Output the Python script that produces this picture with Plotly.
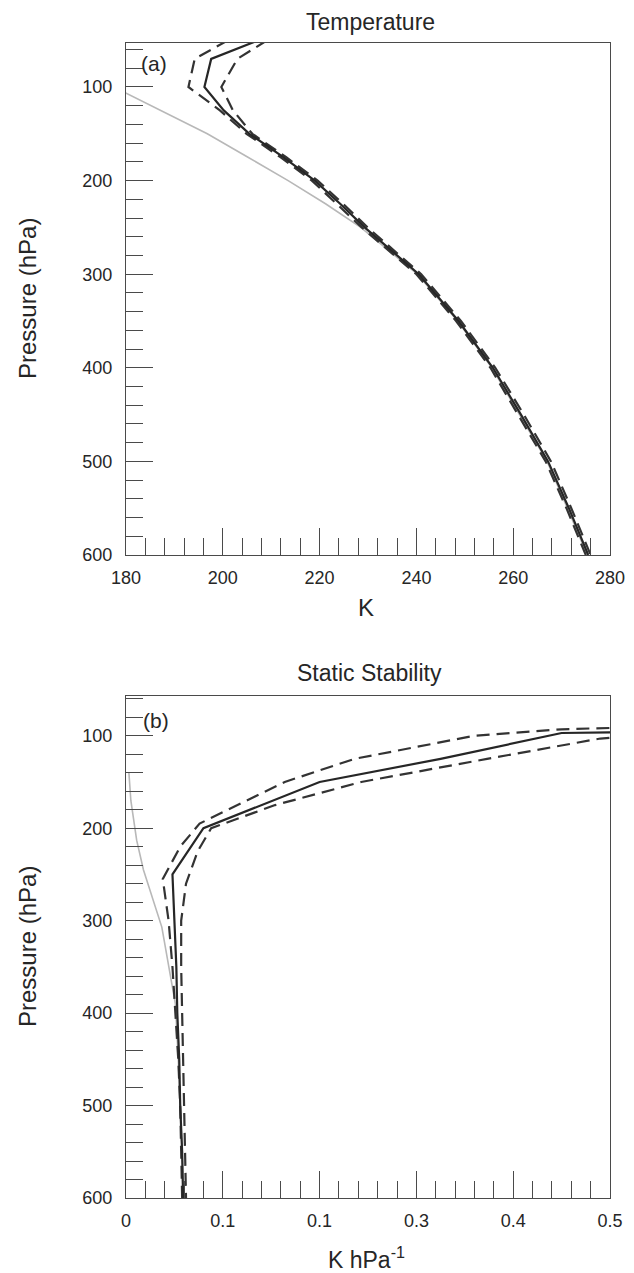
import plotly.graph_objects as go

# ---- Temperature profiles (K) on pressure levels (hPa) ----
p_temp = [50, 70, 100, 125, 150, 175, 200, 225, 250, 300, 350, 400, 450, 500, 550, 600]
t_mean = [207.4, 197.6, 196.2, 200.2, 205.5, 212.5, 219.0, 224.3, 229.3, 240.5, 248.7, 255.8, 261.6, 267.2, 271.5, 275.5]
t_low = [201.1, 194.2, 192.9, 199.4, 204.9, 211.9, 218.4, 223.6, 228.7, 240.0, 248.2, 255.3, 261.0, 266.7, 271.0, 275.0]
t_high = [209.2, 203.0, 199.7, 202.1, 206.1, 213.1, 219.6, 224.9, 229.9, 241.0, 249.2, 256.3, 262.2, 267.8, 272.0, 276.0]

p_temp_ref = [100, 125, 150, 175, 200, 225, 250, 300, 350, 400, 450, 500, 550, 600]
t_ref = [177.5, 187.2, 196.8, 205.2, 213.5, 221.3, 228.5, 240.2, 248.5, 255.6, 261.3, 267.0, 271.2, 275.3]

# ---- Static stability profiles (K hPa^-1) ----
p_ss_mean = [96, 97, 125, 150, 200, 250, 300, 350, 400, 450, 500, 550, 600]
ss_mean = [0.52, 0.45, 0.325, 0.20, 0.080, 0.048, 0.050, 0.052, 0.053, 0.055, 0.056, 0.058, 0.059]

p_ss_upper = [91, 93, 100, 125, 150, 195, 220, 255, 300, 350, 400, 450, 500, 550, 600]
ss_upper = [0.52, 0.45, 0.36, 0.236, 0.164, 0.076, 0.056, 0.038, 0.044, 0.048, 0.051, 0.054, 0.056, 0.057, 0.058]

p_ss_lower = [101, 103, 125, 150, 175, 200, 225, 260, 300, 350, 400, 450, 500, 550, 600]
ss_lower = [0.52, 0.49, 0.373, 0.243, 0.154, 0.088, 0.074, 0.062, 0.057, 0.057, 0.058, 0.059, 0.060, 0.061, 0.062]

p_ss_ref = [140, 170, 213, 245, 307, 350, 390, 450, 500, 550, 600]
ss_ref = [0.003, 0.005, 0.011, 0.018, 0.037, 0.044, 0.051, 0.054, 0.056, 0.058, 0.059]

# ---- Axis ticks ----
p_ticks = [100, 200, 300, 400, 500, 600]
p_tick_text = ["100", "200", "300", "400", "500", "600"]
t_ticks = [180, 200, 220, 240, 260, 280]
t_tick_text = ["180", "200", "220", "240", "260", "280"]
ss_ticks = [0, 0.1, 0.2, 0.3, 0.4, 0.5]
ss_tick_text = ["0", "0.1", "0.1", "0.3", "0.4", "0.5"]

W, H = 634, 1273
FONT = "Liberation Sans, Arial, Helvetica, sans-serif"
INK = "#262626"
FRAME = "#4a4a4a"

LINE_MAIN = dict(color="#262626", width=2.2)
LINE_DASH = dict(color="#333333", width=2.2, dash="13px,7px")
LINE_REF = dict(color="#b8b8b8", width=1.6)


def px_x(x):
    return x / W


def px_y(y):
    return 1 - y / H


fig = go.Figure()

# Panel (a): temperature
fig.add_trace(go.Scatter(x=t_ref, y=p_temp_ref, mode="lines", line=LINE_REF, xaxis="x", yaxis="y"))
fig.add_trace(go.Scatter(x=t_low, y=p_temp, mode="lines", line=LINE_DASH, xaxis="x", yaxis="y"))
fig.add_trace(go.Scatter(x=t_high, y=p_temp, mode="lines", line=LINE_DASH, xaxis="x", yaxis="y"))
fig.add_trace(go.Scatter(x=t_mean, y=p_temp, mode="lines", line=LINE_MAIN, xaxis="x", yaxis="y"))

# Panel (b): static stability
fig.add_trace(go.Scatter(x=ss_ref, y=p_ss_ref, mode="lines", line=LINE_REF, xaxis="x2", yaxis="y2"))
fig.add_trace(go.Scatter(x=ss_upper, y=p_ss_upper, mode="lines", line=LINE_DASH, xaxis="x2", yaxis="y2"))
fig.add_trace(go.Scatter(x=ss_lower, y=p_ss_lower, mode="lines", line=LINE_DASH, xaxis="x2", yaxis="y2"))
fig.add_trace(go.Scatter(x=ss_mean, y=p_ss_mean, mode="lines", line=LINE_MAIN, xaxis="x2", yaxis="y2"))

x_dom = [px_x(126), px_x(610)]

common_axis = dict(
    showline=True, linecolor=FRAME, linewidth=1.4, mirror=True,
    showgrid=False, zeroline=False,
    ticks="inside", ticklen=27, tickwidth=1.4, tickcolor=FRAME,
    tickfont=dict(family=FONT, size=18, color=INK),
    automargin=False,
)

fig.update_layout(
    width=W, height=H,
    margin=dict(l=0, r=0, t=0, b=0, autoexpand=False),
    paper_bgcolor="white", plot_bgcolor="white",
    showlegend=False,
    xaxis=dict(
        domain=x_dom, anchor="y", range=[180, 280],
        tickvals=t_ticks, ticktext=t_tick_text,
        minor=dict(dtick=4, tick0=180, ticks="inside", ticklen=17, tickwidth=1.4, tickcolor=FRAME),
        ticklabelstandoff=6,
        **common_axis,
    ),
    yaxis=dict(
        domain=[px_y(555), px_y(43)], anchor="x", range=[600, 53],
        tickvals=p_ticks, ticktext=p_tick_text,
        minor=dict(dtick=20, tick0=0, ticks="inside", ticklen=17, tickwidth=1.4, tickcolor=FRAME),
        ticklabelstandoff=9,
        **common_axis,
    ),
    xaxis2=dict(
        domain=x_dom, anchor="y2", range=[0, 0.5],
        tickvals=ss_ticks, ticktext=ss_tick_text,
        minor=dict(dtick=0.02, tick0=0, ticks="inside", ticklen=17, tickwidth=1.4, tickcolor=FRAME),
        ticklabelstandoff=6,
        **common_axis,
    ),
    yaxis2=dict(
        domain=[px_y(1198), px_y(696)], anchor="x2", range=[600, 57],
        tickvals=p_ticks, ticktext=p_tick_text,
        minor=dict(dtick=20, tick0=0, ticks="inside", ticklen=17, tickwidth=1.4, tickcolor=FRAME),
        ticklabelstandoff=9,
        **common_axis,
    ),
)


def label(text, x, y, size, angle=0):
    fig.add_annotation(
        text=text, x=px_x(x), y=px_y(y), xref="paper", yref="paper",
        xanchor="center", yanchor="middle", showarrow=False, textangle=angle,
        font=dict(family=FONT, size=size, color=INK),
    )


label("Temperature", 370, 22, 23)
label("Static Stability", 369, 673, 23)
label("K", 366, 607, 24)
label("K hPa<sup>-1</sup>", 366, 1258, 23)
label("Pressure (hPa)", 27, 299, 24, -90)
label("Pressure (hPa)", 27, 947, 24, -90)
label("(a)", 154, 64, 21)
label("(b)", 156, 720, 21)

fig.write_html("out.html")
